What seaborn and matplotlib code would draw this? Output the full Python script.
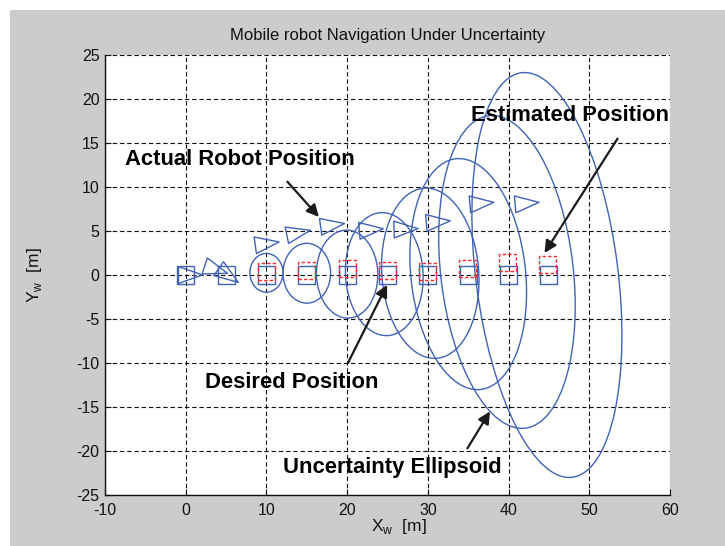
import matplotlib
matplotlib.use("Agg")
import matplotlib.pyplot as plt
import seaborn as sns
import pandas as pd
from matplotlib.markers import MarkerStyle
from matplotlib.path import Path
from matplotlib.transforms import Affine2D
from matplotlib.patches import Ellipse, Rectangle

# Desired positions (blue squares)
desired_x = [0, 5, 10, 15, 20, 25, 30, 35, 40, 45]
desired_y = [0, 0, 0, 0, 0, 0, 0, 0, 0, 0]

# Estimated positions (red dashed squares)
est_x = [10, 15, 20, 25, 29.9, 34.9, 39.9, 44.8]
est_y = [0.4, 0.5, 0.75, 0.5, 0.45, 0.75, 1.45, 1.2]

# Actual robot poses (triangles), heading in degrees
robot_x = [0.1, 3.3, 4.9, 9.6, 13.5, 17.7, 22.5, 26.8, 30.8, 36.2, 41.8]
robot_y = [0.0, 0.75, 0.2, 3.5, 4.7, 5.6, 5.1, 5.2, 6.0, 8.1, 8.1]
robot_heading = [0, -18, -35, 8, 12, 8, 5, 2, 5, 5, 5]

# Uncertainty ellipses
ell_x = [10.0, 15.0, 20.0, 24.6, 30.3, 35.0, 39.8, 44.75]
ell_y = [0.25, 0.2, 0.1, 0.1, 0.2, 0.1, 0.35, 0.0]
ell_semi_x = [2.05, 2.95, 3.8, 4.8, 6.0, 7.1, 8.2, 8.8]
ell_semi_y = [2.2, 3.4, 5.0, 7.0, 9.7, 13.2, 17.9, 23.2]
ell_tilt = [0, 0, 2, 4, 5, 7, 7.5, 8]

xticks = [-10, 0, 10, 20, 30, 40, 50, 60]
yticks = [-25, -20, -15, -10, -5, 0, 5, 10, 15, 20, 25]

# Annotations: text, text position, arrow tail, arrow head
labels = ["Actual Robot Position", "Estimated Position", "Desired Position", "Uncertainty Ellipsoid"]
label_pos = [(-7.5, 13.1), (35.3, 18.1), (2.45, -12.2), (12.1, -21.9)]
arrow_tail = [(12.6, 10.6), (53.5, 15.5), (20.1, -10.0), (34.9, -19.7)]
arrow_head = [(16.5, 6.6), (44.45, 2.5), (24.95, -1.1), (37.7, -15.5)]

blue = '#4262b6'
red = '#ff2a2a'

sns.set_theme(style="white")
plt.rcParams['font.family'] = ['Liberation Sans', 'DejaVu Sans']
plt.rcParams['axes.unicode_minus'] = False

fig = plt.figure(figsize=(7.25, 5.46), dpi=100)
fig.patch.set_facecolor('white')
fig.patches.append(Rectangle((10 / 725, 0), 1, 1 - 10 / 546, transform=fig.transFigure,
                             facecolor='#cccccc', edgecolor='none', zorder=-10))
ax = fig.add_axes([105 / 725, 1 - 495 / 546, 565 / 725, 440 / 546])
ax.set_facecolor('white')

# ellipses
for cx, cy, sx, sy, t in zip(ell_x, ell_y, ell_semi_x, ell_semi_y, ell_tilt):
    ax.add_patch(Ellipse((cx, cy), 2 * sx, 2 * sy, angle=t, fill=False,
                         edgecolor=blue, lw=1.0, zorder=2))

# desired squares
sns.scatterplot(x=desired_x, y=desired_y, marker='s', s=150, color=blue,
                facecolor='none', edgecolor=blue, linewidth=1.0, ax=ax, zorder=3)

# estimated squares
sns.scatterplot(x=est_x, y=est_y, marker='s', s=150, color=red,
                facecolor='none', edgecolor=red, linewidth=1.0,
                linestyle=(0, (2.5, 1.5)), ax=ax, zorder=4)

# robot triangles
tri = Path([(-0.667, 0.7), (1.333, 0.0), (-0.667, -0.7), (-0.667, 0.7)],
           [Path.MOVETO, Path.LINETO, Path.LINETO, Path.CLOSEPOLY])
robot = pd.DataFrame({'x': robot_x, 'y': robot_y, 'k': list(range(len(robot_x)))})
tri_markers = {k: MarkerStyle(tri, transform=Affine2D().rotate_deg(h))
               for k, h in zip(robot['k'], robot_heading)}
sns.scatterplot(data=robot, x='x', y='y', style='k', markers=tri_markers, s=530,
                color=blue, facecolor='none', edgecolor=blue, linewidth=1.0,
                legend=False, ax=ax, zorder=3)

for txt, pos, tail, head in zip(labels, label_pos, arrow_tail, arrow_head):
    ax.text(pos[0], pos[1], txt, fontsize=15.8, fontweight='bold', color='black',
            va='center', ha='left', zorder=6)
    ax.annotate('', xy=head, xytext=tail,
                arrowprops=dict(arrowstyle='-|>', color='k', lw=1.6,
                                mutation_scale=18, shrinkA=0, shrinkB=0), zorder=6)

ax.set_xlim(-10, 60)
ax.set_ylim(-25, 25)
ax.set_xticks(xticks)
ax.set_yticks(yticks)
ax.grid(True, color='#111111', linestyle=(0, (4, 2.5)), linewidth=0.8)
ax.set_axisbelow(True)
for side in ['top', 'right']:
    ax.spines[side].set_visible(False)
for side in ['left', 'bottom']:
    ax.spines[side].set_color('#111111')
    ax.spines[side].set_linewidth(1.0)
ax.tick_params(direction='in', length=4, width=0.8, labelsize=11.5, colors='#111111',
               left=True, bottom=True)
ax.tick_params(axis='x', pad=6)
ax.tick_params(axis='y', pad=4)

ax.set_title('Mobile robot Navigation Under Uncertainty', fontsize=12, pad=11, color='#111111')
ax.set_xlabel(r'X$_\mathregular{w}$  [m]', fontsize=12.5, color='#111111')
ax.set_ylabel(r'Y$_\mathregular{w}$  [m]', fontsize=12.5, color='#111111')
ax.xaxis.set_label_coords(0.52, -0.05)
ax.yaxis.set_label_coords(-0.108, 0.5)

fig.savefig('out.png', dpi=100)
